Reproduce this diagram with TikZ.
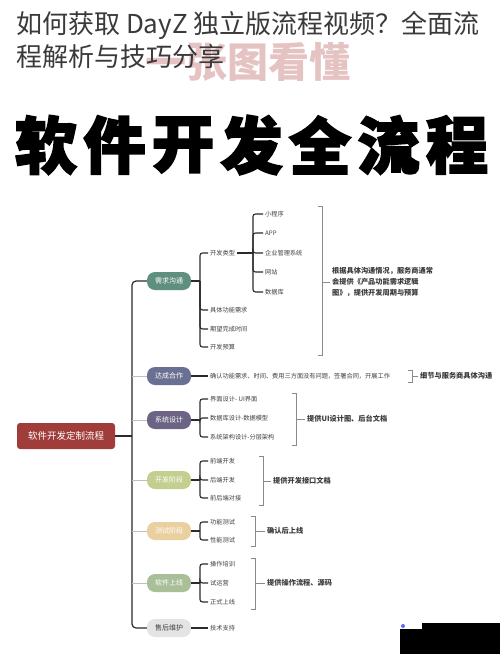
\documentclass[tikz,border=0pt]{standalone}
\usepackage{fontspec}
\setmainfont{Noto Sans CJK SC}
\newfontfamily\heavycjk[FakeBold=3]{Noto Sans CJK SC}
\usepackage{tikz}
\usetikzlibrary{positioning,calc}
\definecolor{titlegray}{HTML}{3A3A3A}
\definecolor{markpink}{HTML}{D49C9C}
\definecolor{rootred}{HTML}{A03C3A}
\definecolor{xqgreen}{HTML}{5F8F7E}
\definecolor{dcblue}{HTML}{6A7091}
\definecolor{xtpurple}{HTML}{6D6485}
\definecolor{kfolive}{HTML}{C2CF8E}
\definecolor{cstan}{HTML}{E9D09E}
\definecolor{rjsage}{HTML}{A8BF98}
\definecolor{shgray}{HTML}{E4E4E4}
\definecolor{linedark}{HTML}{2B2B2B}
\definecolor{leafgray}{HTML}{404040}
\definecolor{bracegray}{HTML}{8A8A8A}

\begin{document}
\begin{tikzpicture}[x=1pt,y=-1pt,
  root/.style={fill=rootred, rounded corners=3pt, minimum width=98pt,
               minimum height=26pt, inner sep=1pt,
               font=\fontsize{9.5}{10}\selectfont\color{white}},
  stage/.style={rounded corners=8pt, minimum width=44pt, minimum height=18pt,
                inner sep=1pt, font=\fontsize{7}{8}\selectfont\color{white}},
  leaf/.style={anchor=west, inner sep=2pt,
               font=\fontsize{6.2}{7}\selectfont\color{leafgray}},
  note/.style={anchor=west, inner sep=2pt, align=left,
               font=\fontsize{7.2}{11}\selectfont\bfseries\color{titlegray}},
  bigchar/.style={inner sep=0pt, font=\heavycjk\fontsize{62}{62}\selectfont\bfseries},
  headline/.style={anchor=west, inner sep=0pt,
                   font=\fontsize{26}{26}\selectfont\color{titlegray}},
  trunk/.style={draw=linedark, line width=1.2pt},
  spur/.style={draw=black!25, line width=0.6pt},
  twig/.style={draw=linedark, line width=1.1pt, rounded corners=2.5pt},
  brace/.style={draw=bracegray, line width=0.8pt}
]
\useasboundingbox[fill=white] (0,0) rectangle (500,654);

% watermark, then headline over it
\node[inner sep=0pt, opacity=0.6, font=\fontsize{41}{41}\selectfont\bfseries\color{markpink}]
  (mark) at (248,62) {一张图看懂};
\node[headline] (head1) at (16,25) {如何获取 DayZ 独立版流程视频？全面流};
\node[headline] (head2) at (16,57) {程解析与技巧分享};

% big title
\foreach \ch [count=\i from 0] in {软,件,开,发,全,流,程}
  \node[bigchar] (big\i) at (46+68.5*\i,145) {\ch};

% root and stages
\node[root] (root) at (66,436) {软件开发定制流程};
\node[stage, fill=xqgreen]  (xq)   at (169,281) {需求沟通};
\node[stage, fill=dcblue]   (dc)   at (169,376) {达成合作};
\node[stage, fill=xtpurple] (xt)   at (169,420) {系统设计};
\node[stage, fill=kfolive]  (kfjd) at (169,480) {开发阶段};
\node[stage, fill=cstan]    (cs)   at (169,531) {测试阶段};
\node[stage, fill=rjsage]   (rj)   at (169,583) {软件上线};
\node[stage, fill=shgray, font=\fontsize{7}{8}\selectfont\color{leafgray}]
  (sh) at (169,628) {售后维护};

\coordinate (tk) at (132,436);
\draw[trunk] (root.east) -- (tk);
\draw[trunk, rounded corners=4pt] (xq.west) -| (tk) |- (sh.west);
\foreach \s in {dc,xt,kfjd,cs,rj}
  \draw[spur] (tk |- \s.west) -- (\s.west);

% 需求沟通
\coordinate (xqhub) at (200,281);
\draw[twig] (xq.east) -- (xqhub);
\node[leaf] (kflx) at (208,253) {开发类型};
\node[leaf] (jtgn) at (208,310) {具体功能需求};
\node[leaf] (qwsj) at (208,329) {期望完成时间};
\node[leaf] (kfys) at (208,347) {开发预算};
\foreach \c in {kflx,jtgn,qwsj,kfys}
  \draw[twig] (xqhub) |- (\c.west);

\coordinate (lxhub) at (253,253);
\draw[twig] (kflx.east) -- (lxhub);
\node[leaf] (xcx)  at (263,214) {小程序};
\node[leaf] (app)  at (263,233) {APP};
\node[leaf] (qygl) at (263,253) {企业管理系统};
\node[leaf] (wz)   at (263,272) {网站};
\node[leaf] (sjk)  at (263,292) {数据库};
\foreach \c in {xcx,app,qygl,wz,sjk}
  \draw[twig] (lxhub) |- (\c.west);

\coordinate (xqtop) at (322,206);
\coordinate (xqbot) at (322,355);
\draw[brace] ([xshift=-4pt]xqtop) -- (xqtop) -- (xqbot) -- ([xshift=-4pt]xqbot);
\node[note] (xqnote) at (330,282)
  {根据具体沟通情况，服务商通常\\会提供《产品功能需求逻辑\\图》，提供开发周期与预算};
\draw[brace] (xqtop |- xqnote.west) -- (xqnote.west);

% 达成合作
\node[leaf] (qrgn) at (208,376) {确认功能需求、时间、费用三方面没有问题，签署合同，开展工作};
\draw[twig] (dc.east) -- (qrgn.west);
\coordinate (dctop) at (412,370);
\coordinate (dcbot) at (412,382);
\draw[brace] ([xshift=-4pt]dctop) -- (dctop) -- (dcbot) -- ([xshift=-4pt]dcbot);
\node[note] (dcnote) at (418,376) {细节与服务商具体沟通};
\draw[brace] (dctop |- dcnote.west) -- (dcnote.west);

% 系统设计
\coordinate (xthub) at (200,420);
\draw[twig] (xt.east) -- (xthub);
\node[leaf] (jmsj) at (208,399) {界面设计- UI界面};
\node[leaf] (sjsj) at (208,418) {数据库设计-数据模型};
\node[leaf] (jgsj) at (208,437) {系统架构设计-分层架构};
\foreach \c in {jmsj,sjsj,jgsj}
  \draw[twig] (xthub) |- (\c.west);
\coordinate (xttop) at (296,393);
\coordinate (xtbot) at (296,445);
\draw[brace] ([xshift=-4pt]xttop) -- (xttop) -- (xtbot) -- ([xshift=-4pt]xtbot);
\node[note] (xtnote) at (305,419) {提供UI设计图、后台文档};
\draw[brace] (xttop |- xtnote.west) -- (xtnote.west);

% 开发阶段
\coordinate (kfhub) at (200,480);
\draw[twig] (kfjd.east) -- (kfhub);
\node[leaf] (qdkf) at (208,461) {前端开发};
\node[leaf] (hdkf) at (208,480) {后端开发};
\node[leaf] (djdj) at (208,498) {前后端对接};
\foreach \c in {qdkf,hdkf,djdj}
  \draw[twig] (kfhub) |- (\c.west);
\coordinate (kftop) at (263,456);
\coordinate (kfbot) at (263,505);
\draw[brace] ([xshift=-4pt]kftop) -- (kftop) -- (kfbot) -- ([xshift=-4pt]kfbot);
\node[note] (kfnote) at (271,481) {提供开发接口文档};
\draw[brace] (kftop |- kfnote.west) -- (kfnote.west);

% 测试阶段
\coordinate (cshub) at (200,531);
\draw[twig] (cs.east) -- (cshub);
\node[leaf] (gncs) at (208,522) {功能测试};
\node[leaf] (xncs) at (208,540) {性能测试};
\foreach \c in {gncs,xncs}
  \draw[twig] (cshub) |- (\c.west);
\coordinate (cstop) at (255,516);
\coordinate (csbot) at (255,546);
\draw[brace] ([xshift=-4pt]cstop) -- (cstop) -- (csbot) -- ([xshift=-4pt]csbot);
\node[note] (csnote) at (265,531) {确认后上线};
\draw[brace] (cstop |- csnote.west) -- (csnote.west);

% 软件上线
\coordinate (rjhub) at (200,583);
\draw[twig] (rj.east) -- (rjhub);
\node[leaf] (czpx) at (208,564) {操作培训};
\node[leaf] (syy)  at (208,583) {试运营};
\node[leaf] (zssx) at (208,602) {正式上线};
\foreach \c in {czpx,syy,zssx}
  \draw[twig] (rjhub) |- (\c.west);
\coordinate (rjtop) at (255,558);
\coordinate (rjbot) at (255,609);
\draw[brace] ([xshift=-4pt]rjtop) -- (rjtop) -- (rjbot) -- ([xshift=-4pt]rjbot);
\node[note] (rjnote) at (265,583) {提供操作流程、源码};
\draw[brace] (rjtop |- rjnote.west) -- (rjnote.west);

% 售后维护
\node[leaf] (jszc) at (208,628) {技术支持};
\draw[twig] (sh.east) -- (jszc.west);

% corner patch
\fill[black] (400,629) rectangle (500,654);
\fill[black] (422,623) rectangle (500,629);
\fill[blue!60] (403,626) circle (2pt);
\end{tikzpicture}
\end{document}
